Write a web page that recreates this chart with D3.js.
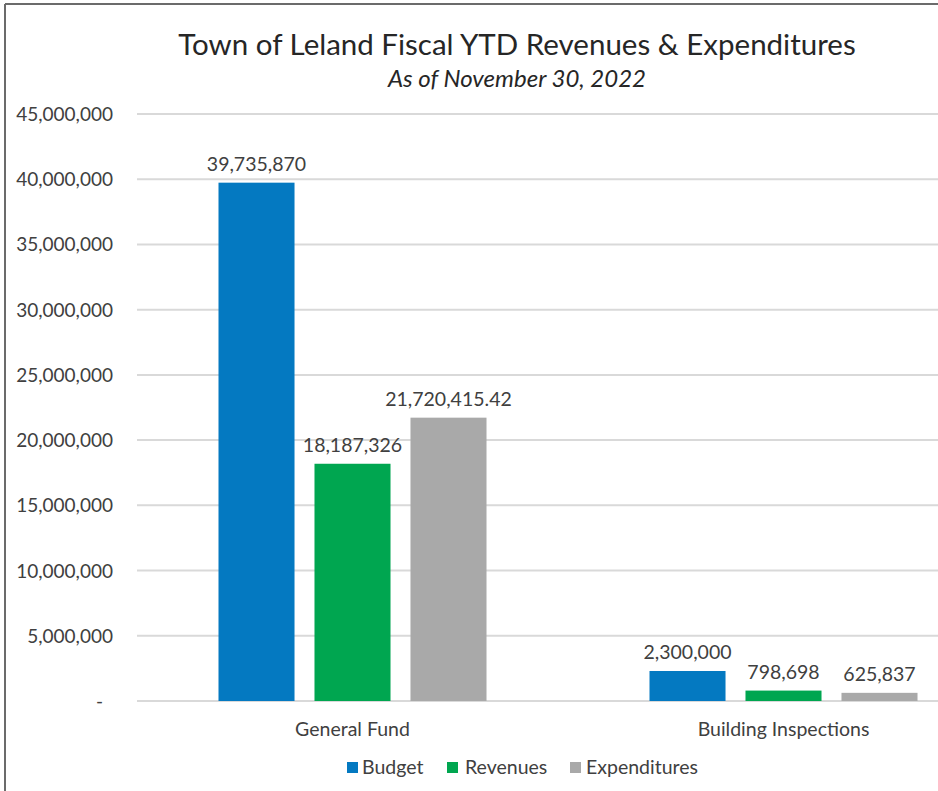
<!DOCTYPE html>
<html lang="en">
<head>
  <meta charset="UTF-8">
  <title>Town of Leland Fiscal YTD Revenues & Expenditures</title>
  <script src="https://d3js.org/d3.v7.min.js"></script>
  <style>
    body {
      margin: 0;
      background: #fff;
      font-family: Lato, "Open Sans", sans-serif;
    }

    svg {
      display: block;
    }

    .grid line {
      stroke: #d9d9d9;
      stroke-width: 2;
    }

    .tick-label {
      font-size: 19px;
      fill: #404040;
    }

    .bar-label {
      font-size: 19.5px;
      fill: #404040;
    }
  </style>
</head>
<body>
  <svg id="chart"></svg>
  <script>
    const categories = ["General Fund", "Building Inspections"];
    const series = ["Budget", "Revenues", "Expenditures"];
    const budget = [39735870, 2300000];
    const revenues = [18187326, 798698];
    const expenditures = [21720415.42, 625837];
    const yTicks = [0, 5000000, 10000000, 15000000, 20000000, 25000000, 30000000, 35000000, 40000000, 45000000];
    const colors = ["#0479c1", "#00a650", "#a9a9a9"];

    const width = 938;
    const height = 791;

    const values = [budget, revenues, expenditures];
    const rows = categories.map((c, i) => ({
      category: c,
      items: series.map((s, j) => ({ series: s, value: values[j][i] }))
    }));

    const svg = d3.select("#chart")
      .attr("width", width)
      .attr("height", height);

    // frame (only top and left edges are visible in the crop)
    svg.append("line")
      .attr("x1", 5).attr("x2", width).attr("y1", 4).attr("y2", 4)
      .attr("stroke", "#6b6b6b").attr("stroke-width", 2);
    svg.append("line")
      .attr("x1", 5).attr("x2", 5).attr("y1", 4).attr("y2", height)
      .attr("stroke", "#6b6b6b").attr("stroke-width", 2);

    // titles
    svg.append("text")
      .attr("x", 517)
      .attr("y", 55)
      .attr("text-anchor", "middle")
      .style("font-size", "29.5px")
      .style("fill", "#262626")
      .text("Town of Leland Fiscal YTD Revenues & Expenditures");

    svg.append("text")
      .attr("x", 517)
      .attr("y", 87)
      .attr("text-anchor", "middle")
      .style("font-size", "24px")
      .style("font-style", "italic")
      .style("fill", "#262626")
      .text("As of November 30, 2022");

    // scales
    const y = d3.scaleLinear()
      .domain([0, 45000000])
      .range([701, 114]);

    // the plot is wider than the visible crop, so the band range runs past the right edge
    const x0 = d3.scaleBand()
      .domain(categories)
      .range([137, 999]);

    const x1 = d3.scaleBand()
      .domain(series)
      .range([0, x0.bandwidth()])
      .paddingInner(0.208)
      .paddingOuter(0.849);

    // gridlines
    svg.append("g")
      .attr("class", "grid")
      .selectAll("line")
      .data(yTicks)
      .enter()
      .append("line")
      .attr("x1", 137)
      .attr("x2", width)
      .attr("y1", d => y(d))
      .attr("y2", d => y(d));

    // y tick labels
    const fmt = d3.format(",");
    svg.append("g")
      .selectAll("text")
      .data(yTicks)
      .enter()
      .append("text")
      .attr("class", "tick-label")
      .attr("x", d => d === 0 ? 103 : 113)
      .attr("y", d => y(d) + 7)
      .attr("text-anchor", "end")
      .text(d => d === 0 ? "-" : fmt(d));

    // bars
    const groups = svg.append("g")
      .selectAll("g")
      .data(rows)
      .enter()
      .append("g")
      .attr("transform", d => `translate(${x0(d.category)},0)`);

    groups.selectAll("rect")
      .data(d => d.items)
      .enter()
      .append("rect")
      .attr("x", d => x1(d.series))
      .attr("y", d => y(d.value))
      .attr("width", x1.bandwidth())
      .attr("height", d => y(0) - y(d.value))
      .attr("fill", (d, i) => colors[i]);

    groups.selectAll("text")
      .data(d => d.items)
      .enter()
      .append("text")
      .attr("class", "bar-label")
      .attr("x", d => x1(d.series) + x1.bandwidth() / 2)
      .attr("y", d => y(d.value) - 12)
      .attr("text-anchor", "middle")
      .text(d => fmt(d.value));

    // category labels
    svg.append("g")
      .selectAll("text")
      .data(categories)
      .enter()
      .append("text")
      .attr("class", "tick-label")
      .attr("x", d => x0(d) + x0.bandwidth() / 2)
      .attr("y", 736)
      .attr("text-anchor", "middle")
      .style("font-size", "19.5px")
      .text(d => d);

    // legend
    const legendX = [347, 447, 570];
    const legend = svg.append("g")
      .selectAll("g")
      .data(series)
      .enter()
      .append("g")
      .attr("transform", (d, i) => `translate(${legendX[i]},762)`);

    legend.append("rect")
      .attr("width", 11)
      .attr("height", 11)
      .attr("fill", (d, i) => colors[i]);

    legend.append("text")
      .attr("class", "tick-label")
      .attr("x", (d, i) => i === 0 ? 15 : (i === 1 ? 18 : 16))
      .attr("y", 12)
      .style("font-size", "19.5px")
      .text(d => d);
  </script>
</body>
</html>
